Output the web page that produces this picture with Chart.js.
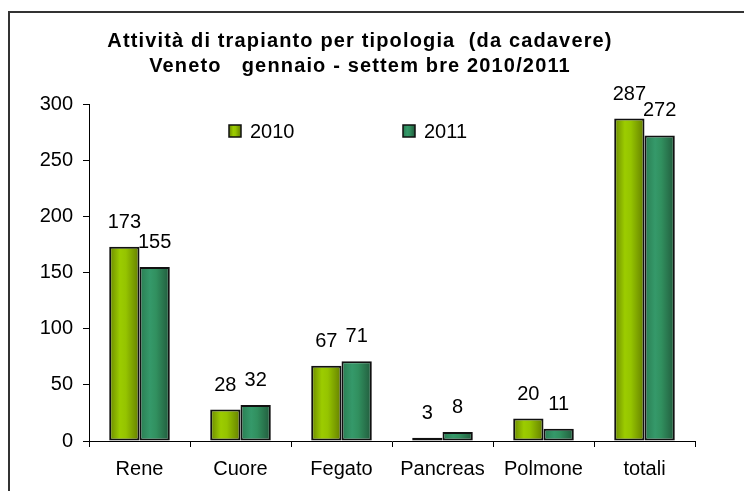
<!DOCTYPE html>
<html>
<head>
<meta charset="utf-8">
<script src="https://cdn.jsdelivr.net/npm/chart.js@4/dist/chart.umd.min.js"></script>
<style>
  html, body { margin: 0; padding: 0; background: #fff; }
  #wrap { position: relative; width: 744px; height: 491px; overflow: hidden; }
  #frame { position: absolute; left: 8px; top: 11px; width: 900px; height: 700px;
           border-left: 2px solid #333; border-top: 2px solid #333; }
  canvas { position: absolute; left: 0; top: 0; }
</style>
</head>
<body>
<div id="wrap">
  <div id="frame"></div>
  <canvas id="c" width="744" height="491"></canvas>
</div>
<script>
const categories = ['Rene', 'Cuore', 'Fegato', 'Pancreas', 'Polmone', 'totali'];
const seriesNames = ['2010', '2011'];
const values2010 = [173, 28, 67, 3, 20, 287];
const values2011 = [155, 32, 71, 8, 11, 272];
const yTicks = [0, 50, 100, 150, 200, 250, 300];
const titleLines = ['Attività di trapianto per tipologia  (da cadavere)', 'Veneto   gennaio - settem bre 2010/2011'];

const FONT = '"Liberation Sans", Arial, sans-serif';
const CAT_PCT = 0.6;

const gradStops = [
  [[0, '#6a8800'], [0.35, '#9ccc00'], [0.55, '#95c400'], [1, '#647e00']],
  [[0, '#2a7d52'], [0.35, '#35996a'], [0.55, '#31905f'], [1, '#215a3c']]
];

function barGradient(c) {
  const chart = c.chart;
  const xs = chart.scales && chart.scales.x;
  if (!chart.chartArea || !xs) return gradStops[c.datasetIndex][1][1];
  const cx = xs.getPixelForValue(c.dataIndex);
  const w = xs.width / categories.length * CAT_PCT / 2;
  const left = c.datasetIndex === 0 ? cx - w : cx;
  const g = chart.ctx.createLinearGradient(left, 0, left + w, 0);
  gradStops[c.datasetIndex].forEach(s => g.addColorStop(s[0], s[1]));
  return g;
}

const titlePlugin = {
  id: 'customTitle',
  afterDraw(chart) {
    const ctx = chart.ctx;
    ctx.save();
    ctx.fillStyle = '#000';
    ctx.font = 'bold 20px ' + FONT;
    ctx.textAlign = 'center';
    ctx.textBaseline = 'middle';
    try { ctx.letterSpacing = '1.15px'; } catch (e) {}
    ctx.fillText(titleLines[0], 360, 41);
    ctx.fillText(titleLines[1], 360, 66);
    ctx.restore();
  }
};

const legendPlugin = {
  id: 'customLegend',
  afterDraw(chart) {
    const ctx = chart.ctx;
    const positions = [229, 403];
    ctx.save();
    chart.data.datasets.forEach((ds, i) => {
      const x = positions[i], y = 131;
      const g = ctx.createLinearGradient(x, 0, x + 12, 0);
      gradStops[i].forEach(s => g.addColorStop(s[0], s[1]));
      ctx.fillStyle = g;
      ctx.fillRect(x, y - 6, 12, 12);
      ctx.strokeStyle = '#111';
      ctx.lineWidth = 1.5;
      ctx.strokeRect(x, y - 6, 12, 12);
      ctx.fillStyle = '#000';
      ctx.font = '20px ' + FONT;
      ctx.textAlign = 'left';
      ctx.textBaseline = 'middle';
      ctx.fillText(ds.label, x + 21, y + 1);
    });
    ctx.restore();
  }
};

const valueLabelPlugin = {
  id: 'valueLabels',
  afterDatasetsDraw(chart) {
    const ctx = chart.ctx;
    ctx.save();
    ctx.fillStyle = '#000';
    ctx.font = '20px ' + FONT;
    ctx.textAlign = 'center';
    ctx.textBaseline = 'alphabetic';
    chart.data.datasets.forEach((ds, i) => {
      chart.getDatasetMeta(i).data.forEach((el, j) => {
        ctx.fillText(String(ds.data[j]), el.x, el.y - 19);
      });
    });
    ctx.restore();
  }
};

new Chart(document.getElementById('c'), {
  type: 'bar',
  data: {
    labels: categories,
    datasets: [
      { label: seriesNames[0], data: values2010, backgroundColor: barGradient,
        borderColor: '#111', borderWidth: 2, borderSkipped: false,
        categoryPercentage: CAT_PCT, barPercentage: 1.0 },
      { label: seriesNames[1], data: values2011, backgroundColor: barGradient,
        borderColor: '#111', borderWidth: 2, borderSkipped: false,
        categoryPercentage: CAT_PCT, barPercentage: 1.0 }
    ]
  },
  options: {
    responsive: false,
    animation: false,
    layout: { padding: { left: 0, right: 49, top: 104, bottom: 0 } },
    plugins: { legend: { display: false }, title: { display: false }, tooltip: { enabled: false } },
    scales: {
      x: {
        afterFit(s) { s.height = 50; },
        grid: { display: true, drawOnChartArea: false, drawTicks: true, tickLength: 6, color: '#000', offset: true },
        border: { display: true, color: '#000', width: 1 },
        ticks: { color: '#000', font: { family: FONT, size: 20 }, padding: 10, maxRotation: 0 }
      },
      y: {
        min: 0, max: 300,
        afterFit(s) { s.width = 89; },
        afterBuildTicks(s) { s.ticks = yTicks.map(v => ({ value: v })); },
        grid: { display: true, drawOnChartArea: false, drawTicks: true, tickLength: 6, color: '#000' },
        border: { display: true, color: '#000', width: 1 },
        ticks: { color: '#000', font: { family: FONT, size: 20 }, padding: 10 }
      }
    }
  },
  plugins: [titlePlugin, legendPlugin, valueLabelPlugin]
});
</script>
</body>
</html>
